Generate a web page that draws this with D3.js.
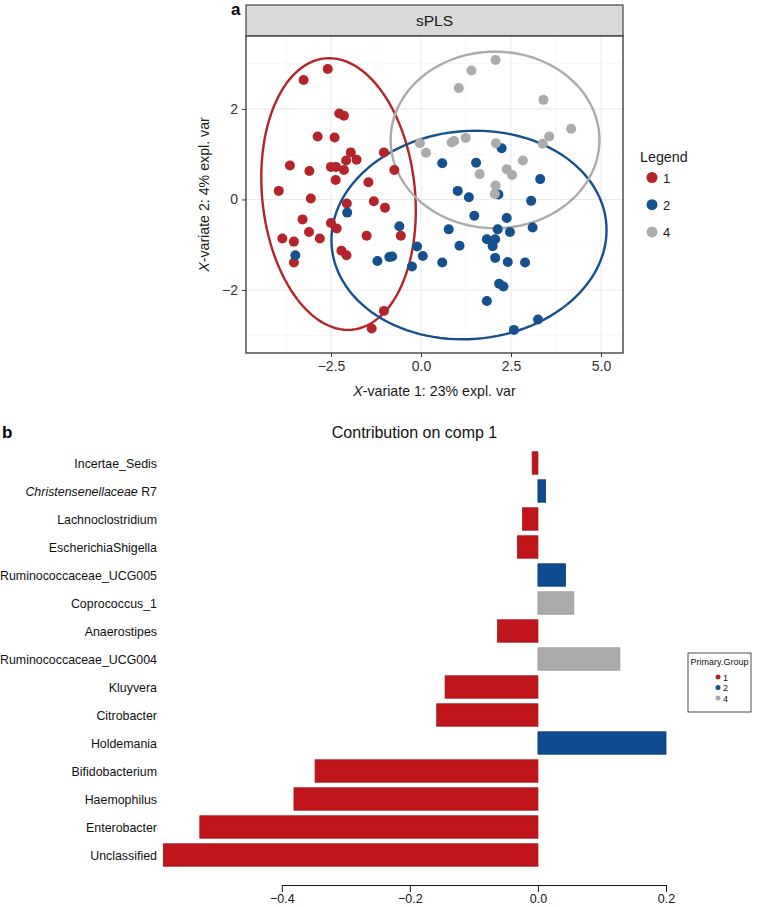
<!DOCTYPE html>
<html><head><meta charset="utf-8">
<script src="https://cdn.jsdelivr.net/npm/d3@7"></script>
<style>
body{margin:0;background:#fff}
svg{display:block}
text{font-family:"Liberation Sans",Arial,Helvetica,sans-serif}
</style>
</head><body><svg id="c" width="760" height="907"></svg>
<script>
// ---------- DATA ----------
const groups = ["1", "2", "4"];
const groupColors = ["#B42428", "#15508F", "#ABABAB"];
const barColors = ["#C0161B", "#0E4B90", "#AAAAAA"];
const barStroke = ["#9E1217", "#0A3A70", "#999999"];

// Scatter (sPLS components)
const redX = [-3.26,-2.59,-2.27,-2.14,-2.87,-2.40,-3.64,-3.10,-2.50,-2.36,-2.14,-2.08,-1.95,-1.79,-1.03,-0.74,-2.37,-1.46,-3.95,-3.06,-2.06,-1.31,-1.00,-3.29,-2.50,-2.34,-3.11,-2.81,-3.85,-3.53,-1.51,-0.56,-2.21,-2.07,-3.53,-1.03,-1.37];
const redY = [2.64,2.88,1.90,1.85,1.39,1.37,0.75,0.63,0.72,0.72,0.65,0.86,1.04,0.88,1.04,0.65,0.43,0.38,0.19,0.02,-0.09,-0.04,-0.18,-0.44,-0.52,-0.64,-0.72,-0.86,-0.86,-0.93,-0.80,-0.80,-1.13,-1.23,-1.39,-2.46,-2.85];
const blueX = [-2.05,-3.49,-0.60,-1.21,-0.88,-0.80,-0.11,0.05,-0.25,0.59,1.53,2.24,3.31,1.02,1.33,2.15,3.06,1.48,2.38,0.77,2.13,2.47,3.10,1.83,2.06,1.99,1.07,0.59,2.06,2.41,2.89,2.17,2.29,1.83,2.58,3.25];
const blueY = [-0.29,-1.23,-0.59,-1.36,-1.27,-1.26,-1.04,-1.25,-1.48,0.80,0.81,1.13,0.45,0.19,0.05,0.11,-0.03,-0.36,-0.41,-0.66,-0.66,-0.72,-0.62,-0.88,-0.88,-1.03,-1.02,-1.39,-1.29,-1.38,-1.39,-1.86,-1.92,-2.24,-2.88,-2.65];
const greyX = [2.07,1.40,1.05,3.40,4.17,3.56,3.38,-0.03,0.14,0.85,0.92,1.24,2.08,2.83,2.38,2.53,1.63,2.07,2.05];
const greyY = [3.08,2.85,2.46,2.20,1.56,1.39,1.23,1.24,1.03,1.26,1.29,1.36,1.24,0.86,0.67,0.54,0.56,0.31,0.12];

// Confidence ellipses (centre + two semi-axis vectors, data units)
const ellipseGroup = ["1", "2", "4"];
const ellipseCx = [-2.29, 1.333, 2.056];
const ellipseCy = [0.12, -0.785, 1.315];
const ellipseAx = [2.13, 3.82, 2.90];
const ellipseAy = [0.0, 0.11, 0.0];
const ellipseBx = [-0.26, 0.0, 0.0];
const ellipseBy = [3.0, 2.30, 1.95];

const scatterXTicks = [-2.5, 0, 2.5, 5];
const scatterYTicks = [-2, 0, 2];
const scatterXMinor = [-3.75, -1.25, 1.25, 3.75];
const scatterYMinor = [-3, -1, 1, 3];

// Loadings bar chart (top to bottom)
const featureNames = ["Incertae_Sedis","Christensenellaceae R7","Lachnoclostridium","EscherichiaShigella","Ruminococcaceae_UCG005","Coprococcus_1","Anaerostipes","Ruminococcaceae_UCG004","Kluyvera","Citrobacter","Holdemania","Bifidobacterium","Haemophilus","Enterobacter","Unclassified"];
const featureValues = [-0.009, 0.012, -0.024, -0.032, 0.043, 0.056, -0.063, 0.128, -0.145, -0.158, 0.200, -0.348, -0.381, -0.528, -0.585];
const featureGroup = ["1","2","1","1","2","4","1","4","1","1","2","1","1","1","1"];
const barXTicks = [-0.4, -0.2, 0.0, 0.2];

// ---------- DRAW ----------
const svg = d3.select("#c");
const FF = "'Liberation Sans',Arial,Helvetica,sans-serif";
const colorOf = d3.scaleOrdinal().domain(groups).range(groupColors);
const barFill = d3.scaleOrdinal().domain(groups).range(barColors);
const barLine = d3.scaleOrdinal().domain(groups).range(barStroke);

// panel a
const pL = 246, pR = 623, pT = 36, pB = 353;
const x = d3.scaleLinear().domain([-4.86, 5.61]).range([pL, pR]);
const y = d3.scaleLinear().domain([-3.39, 3.61]).range([pB, pT]);

svg.append("text").attr("x", 231).attr("y", 15).attr("font-size", 17).attr("font-weight", "bold").text("a");

// strip
svg.append("rect").attr("x", pL).attr("y", 5).attr("width", pR - pL).attr("height", pT - 5)
  .attr("fill", "#D9D9D9").attr("stroke", "#333").attr("stroke-width", 1.1);
svg.append("text").attr("x", (pL + pR) / 2).attr("y", 26).attr("text-anchor", "middle")
  .attr("font-size", 15.5).attr("fill", "#1a1a1a").text("sPLS");

const panel = svg.append("g");
panel.append("rect").attr("x", pL).attr("y", pT).attr("width", pR - pL).attr("height", pB - pT).attr("fill", "#fff");
// grid
panel.selectAll(".gxm").data(scatterXMinor).join("line")
  .attr("x1", d => x(d)).attr("x2", d => x(d)).attr("y1", pT).attr("y2", pB)
  .attr("stroke", "#F2F2F2").attr("stroke-width", 0.6);
panel.selectAll(".gym").data(scatterYMinor).join("line")
  .attr("y1", d => y(d)).attr("y2", d => y(d)).attr("x1", pL).attr("x2", pR)
  .attr("stroke", "#F2F2F2").attr("stroke-width", 0.6);
panel.selectAll(".gx").data(scatterXTicks).join("line")
  .attr("x1", d => x(d)).attr("x2", d => x(d)).attr("y1", pT).attr("y2", pB)
  .attr("stroke", "#EBEBEB").attr("stroke-width", 1.1);
panel.selectAll(".gy").data(scatterYTicks).join("line")
  .attr("y1", d => y(d)).attr("y2", d => y(d)).attr("x1", pL).attr("x2", pR)
  .attr("stroke", "#EBEBEB").attr("stroke-width", 1.1);

// ellipses
const tSteps = d3.range(0, 121).map(i => i / 120 * 2 * Math.PI);
const ellLine = d3.line().x(d => x(d[0])).y(d => y(d[1]));
ellipseGroup.forEach((g, i) => {
  const pts = tSteps.map(t => [
    ellipseCx[i] + ellipseAx[i] * Math.cos(t) + ellipseBx[i] * Math.sin(t),
    ellipseCy[i] + ellipseAy[i] * Math.cos(t) + ellipseBy[i] * Math.sin(t)
  ]);
  panel.append("path").attr("d", ellLine(pts)).attr("fill", "none")
    .attr("stroke", colorOf(g)).attr("stroke-width", 2.4);
});

// points
const pointSets = [[redX, redY, "1"], [blueX, blueY, "2"], [greyX, greyY, "4"]];
pointSets.forEach(([xs, ys, g]) => {
  panel.selectAll(null).data(xs.map((v, i) => [v, ys[i]])).join("circle")
    .attr("cx", d => x(d[0])).attr("cy", d => y(d[1])).attr("r", 5)
    .attr("fill", colorOf(g));
});

panel.append("rect").attr("x", pL).attr("y", pT).attr("width", pR - pL).attr("height", pB - pT)
  .attr("fill", "none").attr("stroke", "#333").attr("stroke-width", 1.3);

// axes
const xAx = svg.append("g").attr("transform", `translate(0,${pB})`)
  .call(d3.axisBottom(x).tickValues(scatterXTicks).tickSize(4).tickPadding(4).tickFormat(d3.format(".1f")));
const yAx = svg.append("g").attr("transform", `translate(${pL},0)`)
  .call(d3.axisLeft(y).tickValues(scatterYTicks).tickSize(4).tickPadding(4).tickFormat(d3.format("d")));
[xAx, yAx].forEach(a => {
  a.select(".domain").remove();
  a.selectAll("line").attr("stroke", "#333");
  a.selectAll("text").attr("font-size", 14).attr("fill", "#333").attr("font-family", FF);
});

const xt = svg.append("text").attr("x", (pL + pR) / 2).attr("y", 396).attr("text-anchor", "middle")
  .attr("font-size", 14.2).attr("fill", "#1a1a1a");
xt.append("tspan").attr("font-style", "italic").text("X");
xt.append("tspan").text("-variate 1: 23% expl. var");
const yt = svg.append("text").attr("transform", `translate(209,${(pT + pB) / 2}) rotate(-90)`)
  .attr("text-anchor", "middle").attr("font-size", 14.2).attr("fill", "#1a1a1a");
yt.append("tspan").attr("font-style", "italic").text("X");
yt.append("tspan").text("-variate 2: 4% expl. var");

// legend a
svg.append("text").attr("x", 640).attr("y", 162).attr("font-size", 14.3).attr("fill", "#1a1a1a").text("Legend");
const legA = svg.selectAll(".legA").data(groups).join("g")
  .attr("transform", (d, i) => `translate(652,${177.5 + i * 27.2})`);
legA.append("circle").attr("r", 5.5).attr("fill", d => colorOf(d));
legA.append("text").attr("x", 11).attr("y", 5).attr("font-size", 13).attr("fill", "#1a1a1a").text(d => d);

// panel b
svg.append("text").attr("x", 2).attr("y", 438).attr("font-size", 17).attr("font-weight", "bold").text("b");
svg.append("text").attr("x", 414.5).attr("y", 437.5).attr("text-anchor", "middle").attr("font-size", 16)
  .attr("fill", "#111").text("Contribution on comp 1");

const bx = d3.scaleLinear().domain([-0.4, 0.2]).range([281.8, 666]);
const by = d3.scaleBand().domain(featureNames).range([449, 869]).paddingInner(0.2).paddingOuter(0.1);

svg.selectAll(".bar").data(featureNames).join("rect")
  .attr("x", (d, i) => bx(Math.min(0, featureValues[i])))
  .attr("width", (d, i) => Math.abs(bx(featureValues[i]) - bx(0)))
  .attr("y", d => by(d)).attr("height", by.bandwidth())
  .attr("fill", (d, i) => barFill(featureGroup[i]))
  .attr("stroke", (d, i) => barLine(featureGroup[i])).attr("stroke-width", 0.8);

const labs = svg.selectAll(".blab").data(featureNames).join("text")
  .attr("x", 157).attr("y", d => by(d) + by.bandwidth() / 2 + 4.5)
  .attr("text-anchor", "end").attr("font-size", 12.4).attr("fill", "#111");
labs.each(function(d) {
  const t = d3.select(this);
  if (d === "Christensenellaceae R7") {
    t.append("tspan").attr("font-style", "italic").text("Christensenellaceae");
    t.append("tspan").text(" R7");
  } else t.text(d);
});

const bAx = svg.append("g").attr("transform", "translate(0,885)")
  .call(d3.axisBottom(bx).tickValues(barXTicks).tickSize(7).tickSizeOuter(0).tickPadding(2).tickFormat(d3.format(".1f")));
bAx.select(".domain").attr("stroke", "#111");
bAx.selectAll("line").attr("stroke", "#111");
bAx.selectAll("text").attr("font-size", 12.5).attr("fill", "#111").attr("font-family", FF);

// legend b
const lb = svg.append("g").attr("transform", "translate(688,653)");
lb.append("rect").attr("width", 63).attr("height", 59).attr("fill", "#fff").attr("stroke", "#222").attr("stroke-width", 0.8);
lb.append("text").attr("x", 31.5).attr("y", 11.5).attr("text-anchor", "middle").attr("font-size", 9).attr("fill", "#111").text("Primary.Group");
const lbi = lb.selectAll(".lbi").data(groups).join("g")
  .attr("transform", (d, i) => `translate(30,${24 + i * 10.5})`);
lbi.append("circle").attr("r", 2.5).attr("fill", d => colorOf(d));
lbi.append("text").attr("x", 5).attr("y", 3.5).attr("font-size", 9).attr("fill", "#111").text(d => d);
</script>
</body></html>
